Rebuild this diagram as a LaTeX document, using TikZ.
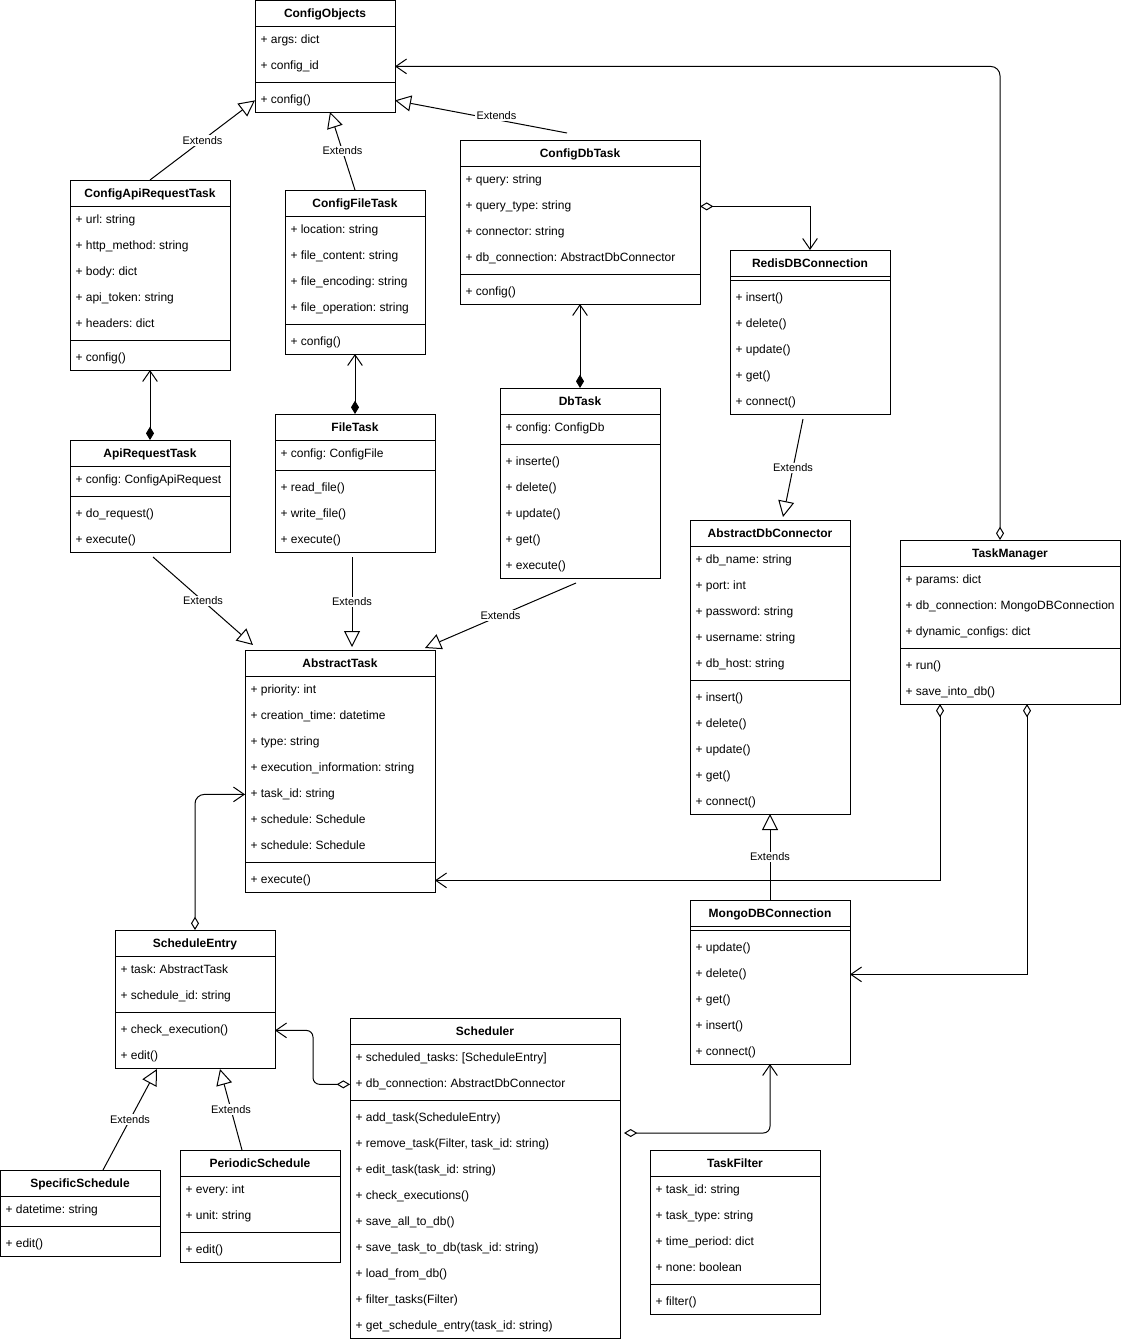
\documentclass[tikz,border=0pt]{standalone}
\usepackage{fontspec}
\setmainfont{Liberation Sans}
\frenchspacing
\usetikzlibrary{arrows.meta, positioning, calc}

% #1 name, #2 x, #3 y, #4 width, #5 title, #6 number of attributes, #7 attributes, #8 methods
\newcommand{\umlclass}[8]{%
  \node[classtitle] (#1-t) at ({#2+#4/2},{#3+17.5}) {#5};
  \draw ({#2},{#3+26}) -- ++(#4,0);
  \ifnum#6>0
    \foreach \a [count=\i] in {#7}
      \node[classrow] (#1-a\i) at ({#2+5},{#3+17.5+26*\i}) {\a};
  \fi
  \draw ({#2},{#3+30+26*#6}) -- ++(#4,0);
  \foreach \m [count=\j] in {#8} {
    \node[classrow] (#1-m\j) at ({#2+5},{#3+25.5+26*#6+26*\j}) {\m};
    \xdef\nmeth{\j}
  }
  \node[classbox, minimum width=#4*0.75pt,
    minimum height={(34+26*#6+26*\nmeth)*0.75pt}, anchor=north west] (#1) at (#2,#3) {};
}

\begin{document}
\begin{tikzpicture}[
        x = 0.75pt, y = -0.75pt, line width = 0.75pt,
        classbox/.style = {draw, inner sep = 0pt, outer sep = 0pt},
        classtitle/.style = {font = \fontsize{9}{11}\selectfont\bfseries, anchor = base, inner sep = 0pt},
        classrow/.style = {font = \fontsize{9}{11}\selectfont, anchor = base west, inner sep = 0pt},
        extlabel/.style = {fill = white, font = \fontsize{8.25}{10}\selectfont, inner sep = 1pt},
        extends/.style = {-{Triangle[open, length = 12pt, width = 12pt]}},
        agg/.style = {{Diamond[open, length = 10pt, width = 6pt]}-{Straight Barb[length = 8pt, width = 11pt]}},
        comp/.style = {{Diamond[length = 10pt, width = 6pt]}-{Straight Barb[length = 8pt, width = 11pt]}}
    ]
    \useasboundingbox (0,0) rectangle (1121,1342);

    \umlclass{cfgobj}{255}{0}{140}{ConfigObjects}{2}{+ args: dict, + config\_id}{+ config()}
    \umlclass{cart}{70}{180}{160}{ConfigApiRequestTask}{5}{+ url: string, + http\_method: string, + body: dict, + api\_token: string, + headers: dict}{+ config()}
    \umlclass{cft}{285}{190}{140}{ConfigFileTask}{4}{+ location: string, + file\_content: string, + file\_encoding: string, + file\_operation: string}{+ config()}
    \umlclass{cdbt}{460}{140}{240}{ConfigDbTask}{4}{+ query: string, + query\_type: string, + connector: string, + db\_connection: AbstractDbConnector}{+ config()}
    \umlclass{redis}{730}{250}{160}{RedisDBConnection}{0}{}{+ insert(), + delete(), + update(), + get(), + connect()}
    \umlclass{art}{70}{440}{160}{ApiRequestTask}{1}{+ config: ConfigApiRequest}{+ do\_request(), + execute()}
    \umlclass{ft}{275}{414}{160}{FileTask}{1}{+ config: ConfigFile}{+ read\_file(), + write\_file(), + execute()}
    \umlclass{dbt}{500}{388}{160}{DbTask}{1}{+ config: ConfigDb}{+ inserte(), + delete(), + update(), + get(), + execute()}
    \umlclass{adc}{690}{520}{160}{AbstractDbConnector}{5}{+ db\_name: string, + port: int, + password: string, + username: string, + db\_host: string}{+ insert(), + delete(), + update(), + get(), + connect()}
    \umlclass{tm}{900}{540}{220}{TaskManager}{3}{+ params: dict, + db\_connection: MongoDBConnection, + dynamic\_configs: dict}{+ run(), + save\_into\_db()}
    \umlclass{at}{245}{650}{190}{AbstractTask}{7}{+ priority: int, + creation\_time: datetime, + type: string, + execution\_information: string, + task\_id: string, + schedule: Schedule, + schedule: Schedule}{+ execute()}
    \umlclass{mongo}{690}{900}{160}{MongoDBConnection}{0}{}{+ update(), + delete(), + get(), + insert(), + connect()}
    \umlclass{se}{115}{930}{160}{ScheduleEntry}{2}{+ task: AbstractTask, + schedule\_id: string}{+ check\_execution(), + edit()}
    \umlclass{sched}{350}{1018}{270}{Scheduler}{2}{{+ scheduled\_tasks: [ScheduleEntry]}, + db\_connection: AbstractDbConnector}{+ add\_task(ScheduleEntry), {+ remove\_task(Filter, task\_id: string)}, + edit\_task(task\_id: string), + check\_executions(), + save\_all\_to\_db(), + save\_task\_to\_db(task\_id: string), + load\_from\_db(), + filter\_tasks(Filter), + get\_schedule\_entry(task\_id: string)}
    \umlclass{ss}{0}{1170}{160}{SpecificSchedule}{1}{+ datetime: string}{+ edit()}
    \umlclass{ps}{180}{1150}{160}{PeriodicSchedule}{2}{+ every: int, + unit: string}{+ edit()}
    \umlclass{tf}{650}{1150}{170}{TaskFilter}{4}{+ task\_id: string, + task\_type: string, + time\_period: dict, + none: boolean}{+ filter()}

    \draw[extends] (cart.north) -- node[extlabel] {Extends} (cfgobj.west |- cfgobj-m1);
    \draw[extends] (cft.north) -- node[extlabel] {Extends} ($(cfgobj.south)+(5,0)$);
    \draw[extends] ($(cdbt.north)+(-13,-7)$) -- node[extlabel, pos = 0.41, yshift = 3pt] {Extends} (cfgobj.east |- cfgobj-m1);
    \draw[agg, rounded corners = 7pt] ($(tm.north)+(-10,0)$) |- (cfgobj.east |- cfgobj-a2);

    \draw[comp] (art.north) -- (cart.south);
    \draw[comp] (ft.north) -- (cft.south);
    \draw[comp] (dbt.north) -- (cdbt.south);
    \draw[agg] (cdbt.east |- cdbt-a2) -| (redis.north);
    \draw[extends] ($(redis.south)+(-7,5)$) -- node[extlabel] {Extends} ($(adc.north)+(13,-3)$);

    \draw[extends] ($(art.south)+(3,5)$) -- node[extlabel] {Extends} ($(at.north west)+(8,-5)$);
    \draw[extends] ($(ft.south)+(-3,5)$) -- node[extlabel] {Extends} ($(at.north)+(12,-3)$);
    \draw[extends] ($(dbt.south)+(-4,5)$) -- node[extlabel] {Extends} ($(at.north east)+(-10,-2)$);
    \draw[extends] (mongo.north) -- node[extlabel] {Extends} (adc.south);

    \draw[agg] ($(tm.south west)+(40,0)$) |- (at.east |- at-m1);
    \draw[agg] ($(tm.south west)+(127,0)$) |- (mongo.east |- mongo-m2);
    \draw[agg, rounded corners = 7pt] (se.north) |- (at.west |- at-a5);

    \draw[agg, rounded corners = 5pt] (sched.west |- sched-a2) -- ++(-37,0) |- (se.east |- se-m1);
    \draw[agg, rounded corners = 5pt] ($(sched.east)+(4,-45)$) -| (mongo.south);
    \draw[extends] ($(ss.north)+(23,0)$) -- node[extlabel] {Extends} ($(se.south west)+(42,1)$);
    \draw[extends] ($(ps.north)+(-18,0)$) -- node[extlabel] {Extends} ($(se.south west)+(105,1)$);
\end{tikzpicture}
\end{document}
